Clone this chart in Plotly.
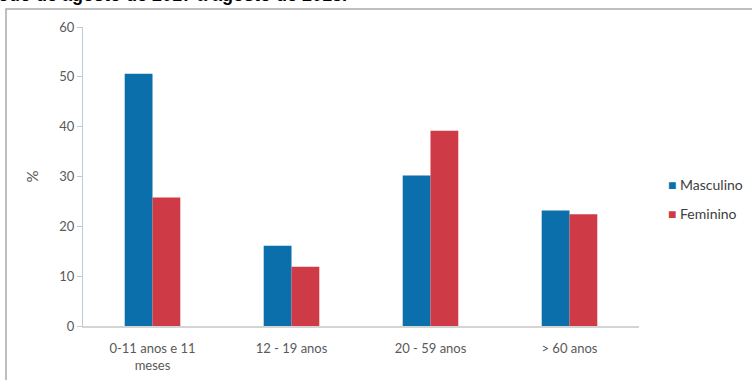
import plotly.graph_objects as go

categories = ["0-11 anos e 11<br>meses", "12 - 19 anos", "20 - 59 anos", "> 60 anos"]
masculino = [50.6, 16.1, 30.2, 23.2]
feminino = [25.8, 11.9, 39.2, 22.4]
series_names = ["Masculino", "Feminino"]
y_ticks = [0, 10, 20, 30, 40, 50, 60]
title_text = "período de agosto de 2017 a agosto de 2018."

BLUE = "#0a6faa"
RED = "#cf3a47"
FONT = "Lato, Open Sans, sans-serif"

fig = go.Figure()
fig.add_trace(go.Bar(x=categories, y=masculino, name=series_names[0],
                     marker=dict(color=BLUE, line=dict(width=0)), showlegend=False))
fig.add_trace(go.Bar(x=categories, y=feminino, name=series_names[1],
                     marker=dict(color=RED, line=dict(width=0)), showlegend=False))

W, H = 752, 380
L, R, T, B = 83, 113, 27, 54
PW, PH = W - L - R, H - T - B

def px_x(px):
    return (px - L) / PW

def px_y(py):
    return (H - B - py) / PH

fig.update_layout(
    width=W, height=H,
    margin=dict(l=L, r=R, t=T, b=B, pad=0, autoexpand=False),
    paper_bgcolor="white", plot_bgcolor="white",
    barmode="group", bargap=0.6, bargroupgap=0,
    font=dict(family=FONT, size=13, color="#595959"),
    showlegend=False,
    xaxis=dict(showline=True, linecolor="#d4d4d4", linewidth=1.5,
               showgrid=False, ticks="", ticklabelstandoff=10, automargin=False,
               tickfont=dict(family=FONT, size=13, color="#595959")),
    yaxis=dict(range=[0, 60], tickvals=y_ticks, showline=True, automargin=False,
               linecolor="#bccbdb", linewidth=1.2, ticks="outside",
               ticklen=5, tickcolor="#bccbdb", showgrid=False, zeroline=False,
               tickfont=dict(family=FONT, size=13, color="#595959"),
               title=dict(text="%", standoff=16,
                          font=dict(family=FONT, size=15, color="#595959"))),
)

# legend drawn as text with coloured square glyphs
for nm, col, py in [(series_names[0], BLUE, 184), (series_names[1], RED, 213)]:
    fig.add_annotation(text=f"<span style='color:{col}'>■</span> {nm}",
                       xref="paper", yref="paper", x=px_x(666), y=px_y(py),
                       xanchor="left", yanchor="middle", showarrow=False,
                       font=dict(family=FONT, size=14, color="#404040"))

# frame border of the original document figure
fig.add_shape(type="rect", xref="paper", yref="paper",
              x0=px_x(6), x1=1.5, y0=-0.5, y1=px_y(9),
              line=dict(color="#a9a9a9", width=1.5), fillcolor="rgba(0,0,0,0)",
              layer="below")

# cut-off caption line at the very top (as in the source crop)
fig.add_annotation(text="<b>" + title_text + "</b>", xref="paper", yref="paper",
                   x=px_x(349), y=1, xanchor="right", yanchor="bottom",
                   yshift=20, showarrow=False,
                   font=dict(family="Liberation Sans, Arial, sans-serif", size=18, color="#000000"))

fig.write_html("out.html")
